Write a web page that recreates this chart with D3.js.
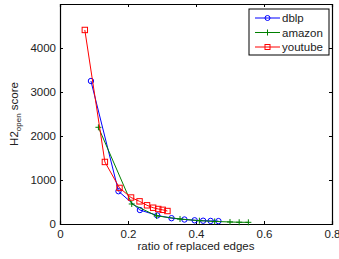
<!DOCTYPE html>
<html>
<head>
<meta charset="utf-8">
<script src="https://cdn.jsdelivr.net/npm/d3@7"></script>
<style>
  body { margin: 0; background: #fff; }
  svg { font-family: "Liberation Sans", Arial, sans-serif; }
</style>
</head>
<body>
<div id="chart"></div>
<script>
// Data
const dblpX = [0.091, 0.172, 0.235, 0.286, 0.328, 0.366, 0.396, 0.421, 0.443, 0.466];
const dblpY = [3250, 745, 318, 195, 132, 102, 84, 75, 70, 66];
const amazonX = [0.113, 0.211, 0.284, 0.353, 0.41, 0.455, 0.5, 0.527, 0.554];
const amazonY = [2198, 455, 185, 114, 75, 58, 46, 40, 38];
const youtubeX = [0.073, 0.132, 0.175, 0.209, 0.234, 0.256, 0.274, 0.289, 0.302, 0.316];
const youtubeY = [4410, 1410, 820, 602, 515, 425, 370, 341, 322, 295];
const xTicks = [0, 0.2, 0.4, 0.6, 0.8];
const yTicks = [0, 1000, 2000, 3000, 4000];

const series = [
    { name: "dblp", color: "#0000ff", marker: "circle", xs: dblpX, ys: dblpY },
    { name: "amazon", color: "#008000", marker: "plus", xs: amazonX, ys: amazonY },
    { name: "youtube", color: "#ff0000", marker: "square", xs: youtubeX, ys: youtubeY }
];

const width = 339;
const height = 259;
const marginTop = 4;
const marginRight = 7;
const marginBottom = 35;
const marginLeft = 60;

const x = d3.scaleLinear().domain([0, 0.8]).range([marginLeft, width - marginRight]);
const y = d3.scaleLinear().domain([0, 5000]).range([height - marginBottom, marginTop]);

const svg = d3.select("#chart")
    .append("svg")
    .attr("width", width)
    .attr("height", height)
    .attr("viewBox", [0, 0, width, height]);

// Axes (ticks point inward, mirrored on top and right)
svg.append("g")
    .attr("transform", `translate(0,${height - marginBottom})`)
    .call(d3.axisBottom(x).tickValues(xTicks).tickSize(-3).tickPadding(6).tickFormat(d3.format("")));
svg.append("g")
    .attr("transform", `translate(${marginLeft},0)`)
    .call(d3.axisLeft(y).tickValues(yTicks).tickSize(-3).tickPadding(4).tickFormat(d3.format("d")));
svg.append("g")
    .attr("transform", `translate(0,${marginTop})`)
    .call(d3.axisTop(x).tickValues(xTicks).tickSize(-3).tickFormat(""));
svg.append("g")
    .attr("transform", `translate(${width - marginRight},0)`)
    .call(d3.axisRight(y).tickValues(yTicks).tickSize(-3).tickFormat(""));

svg.selectAll(".domain").attr("stroke", "#000").attr("stroke-width", 1.2);
svg.selectAll(".tick line").attr("stroke", "#000");
svg.selectAll(".tick text").attr("fill", "#222").style("font-size", "11.5px");

// Axis labels
svg.append("text")
    .attr("x", (marginLeft + width - marginRight) / 2)
    .attr("y", 250)
    .attr("text-anchor", "middle")
    .style("font-size", "11.5px")
    .attr("fill", "#222")
    .text("ratio of replaced edges");

const yl = svg.append("text")
    .attr("transform", `translate(18,${(marginTop + height - marginBottom) / 2}) rotate(-90)`)
    .attr("text-anchor", "middle")
    .style("font-size", "11.5px")
    .attr("fill", "#222");
yl.append("tspan").text("H2");
yl.append("tspan").attr("dy", 3).style("font-size", "8px").text("open");
yl.append("tspan").attr("dy", -3).text(" score");

// Lines and markers
const line = d3.line();

function drawMarker(g, type, color, size) {
    if (type === "circle") {
        g.append("circle").attr("r", size).attr("fill", "none").attr("stroke", color);
    } else if (type === "square") {
        g.append("rect").attr("x", -size).attr("y", -size)
            .attr("width", size * 2).attr("height", size * 2)
            .attr("fill", "none").attr("stroke", color);
    } else {
        g.append("path").attr("d", `M${-size},0H${size}M0,${-size}V${size}`)
            .attr("stroke", color);
    }
}

series.forEach((s) => {
    const pts = s.xs.map((d, i) => [x(d), y(s.ys[i])]);
    svg.append("path")
        .attr("d", line(pts))
        .attr("fill", "none")
        .attr("stroke", s.color)
        .attr("stroke-width", 1);
    pts.forEach(([px, py]) => {
        const g = svg.append("g").attr("transform", `translate(${px},${py})`);
        drawMarker(g, s.marker, s.color, s.marker === "plus" ? 3 : 2.7);
    });
});

// Legend
const legend = svg.append("g").attr("transform", "translate(249,9)");
legend.append("rect")
    .attr("width", 80).attr("height", 46)
    .attr("fill", "#fff").attr("stroke", "#000").attr("stroke-width", 1);
series.forEach((s, i) => {
    const ly = 9 + i * 14.5;
    legend.append("line")
        .attr("x1", 6).attr("x2", 31).attr("y1", ly).attr("y2", ly)
        .attr("stroke", s.color);
    const g = legend.append("g").attr("transform", `translate(18.5,${ly})`);
    drawMarker(g, s.marker, s.color, s.marker === "plus" ? 3 : 2.5);
    legend.append("text")
        .attr("x", 33).attr("y", ly + 4)
        .style("font-size", "11.5px")
        .attr("fill", "#222")
        .text(s.name);
});
</script>
</body>
</html>
